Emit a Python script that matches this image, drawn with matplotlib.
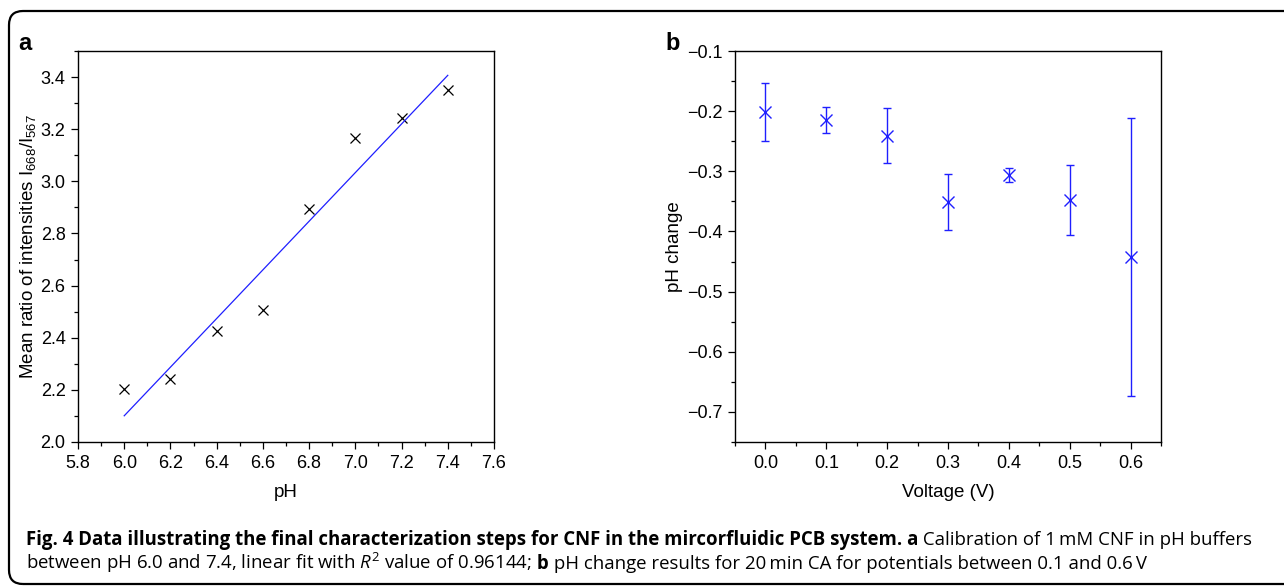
import numpy as np
import matplotlib
matplotlib.use("Agg")
import matplotlib.pyplot as plt
from matplotlib.patches import FancyBboxPatch
from matplotlib.ticker import MultipleLocator, FuncFormatter
from matplotlib.transforms import IdentityTransform

# panel a: calibration
ph = [6.0, 6.2, 6.4, 6.6, 6.8, 7.0, 7.2, 7.4]
ratio = [2.202, 2.240, 2.425, 2.508, 2.893, 3.166, 3.243, 3.352]

# panel b: pH change vs voltage
voltage = [0.0, 0.1, 0.2, 0.3, 0.4, 0.5, 0.6]
ph_change = [-0.201, -0.215, -0.241, -0.351, -0.306, -0.348, -0.442]
ph_err = [0.048, 0.022, 0.046, 0.046, 0.011, 0.058, 0.231]

BLUE = "#1f1fff"

plt.rcParams["font.family"] = ["Liberation Sans", "DejaVu Sans"]
plt.rcParams["mathtext.fontset"] = "custom"
plt.rcParams["mathtext.it"] = "Open Sans:italic"
plt.rcParams["mathtext.rm"] = "Open Sans"

W, H = 1284, 588
fig = plt.figure(figsize=(W / 100, H / 100), dpi=100)

# rounded frame around the whole figure (pixel coordinates)
frame = FancyBboxPatch((9, 4), 1320, 573,
                       boxstyle="round,pad=0,rounding_size=14",
                       transform=IdentityTransform(), fill=False,
                       edgecolor="black", linewidth=1.6, clip_on=False)
fig.patches.append(frame)

fmt = FuncFormatter(lambda v, pos: f"{v:.1f}".replace("-", "\u2212"))


def style_axes(ax):
    ax.tick_params(which="both", direction="out", labelsize=13, width=0.9, pad=4)
    ax.tick_params(which="major", length=5)
    ax.tick_params(which="minor", length=3)
    ax.xaxis.set_major_formatter(fmt)
    ax.yaxis.set_major_formatter(fmt)
    for sp in ax.spines.values():
        sp.set_linewidth(1.0)


ax1 = fig.add_axes([78 / W, 1 - 442 / H, 416 / W, 391 / H])
ax1.plot(ph, ratio, "x", color="black", markersize=7, markeredgewidth=0.9)
slope, intercept = np.polyfit(ph, ratio, 1)
fit_x = np.array([ph[0], ph[-1]])
ax1.plot(fit_x, slope * fit_x + intercept, color=BLUE, linewidth=0.9)
ax1.set_xlim(5.8, 7.6)
ax1.set_ylim(2.0, 3.5)
ax1.xaxis.set_major_locator(MultipleLocator(0.2))
ax1.xaxis.set_minor_locator(MultipleLocator(0.1))
ax1.yaxis.set_major_locator(MultipleLocator(0.2))
ax1.yaxis.set_minor_locator(MultipleLocator(0.1))
ax1.set_xlabel("pH", fontsize=13.5, labelpad=9)
ax1.set_ylabel(r"Mean ratio of intensities I$\mathregular{_{668}}$/I$\mathregular{_{567}}$",
               fontsize=13.5, labelpad=2)
style_axes(ax1)

ax2 = fig.add_axes([735 / W, 1 - 442 / H, 426 / W, 391 / H])
ax2.errorbar(voltage, ph_change, yerr=ph_err, fmt="x", color=BLUE,
             markersize=9, markeredgewidth=1.0, elinewidth=1.0,
             capsize=3, capthick=1.0)
ax2.set_xlim(-0.05, 0.65)
ax2.set_ylim(-0.75, -0.1)
ax2.xaxis.set_major_locator(MultipleLocator(0.1))
ax2.xaxis.set_minor_locator(MultipleLocator(0.05))
ax2.yaxis.set_major_locator(MultipleLocator(0.1))
ax2.yaxis.set_minor_locator(MultipleLocator(0.05))
ax2.set_xlabel("Voltage (V)", fontsize=13.5, labelpad=9)
ax2.set_ylabel("pH change", fontsize=13.5, labelpad=3)
style_axes(ax2)

fig.text(18 / W, 1 - 50 / H, "a", fontsize=17, fontweight="bold")
fig.text(665 / W, 1 - 50 / H, "b", fontsize=17, fontweight="bold")

# caption, built from pieces laid end to end on a shared baseline
cap = dict(fontsize=13.4, family=["Open Sans", "DejaVu Sans"])
renderer = fig.canvas.get_renderer()


def chain(pieces, x_px, y_px):
    x = x_px
    for txt, weight in pieces:
        t = fig.text(x, H - y_px, txt, fontweight=weight, va="baseline",
                     transform=IdentityTransform(), **cap)
        x = t.get_window_extent(renderer).x1


line1 = [
    ("Fig. 4 Data illustrating the final characterization steps for CNF in the "
     "mircorfluidic PCB system. a", "bold"),
    (" Calibration of 1\u2009mM CNF in pH buffers", "normal"),
]
line2 = [
    (r"between pH 6.0 and 7.4, linear fit with $\mathit{R}^{2}$ value of 0.96144;",
     "normal"),
    (" b", "bold"),
    (" pH change results for 20\u2009min CA for potentials between 0.1 and 0.6\u2009V",
     "normal"),
]
chain(line1, 26, 545)
chain(line2, 26, 569)

fig.savefig("out.png", dpi=100)
